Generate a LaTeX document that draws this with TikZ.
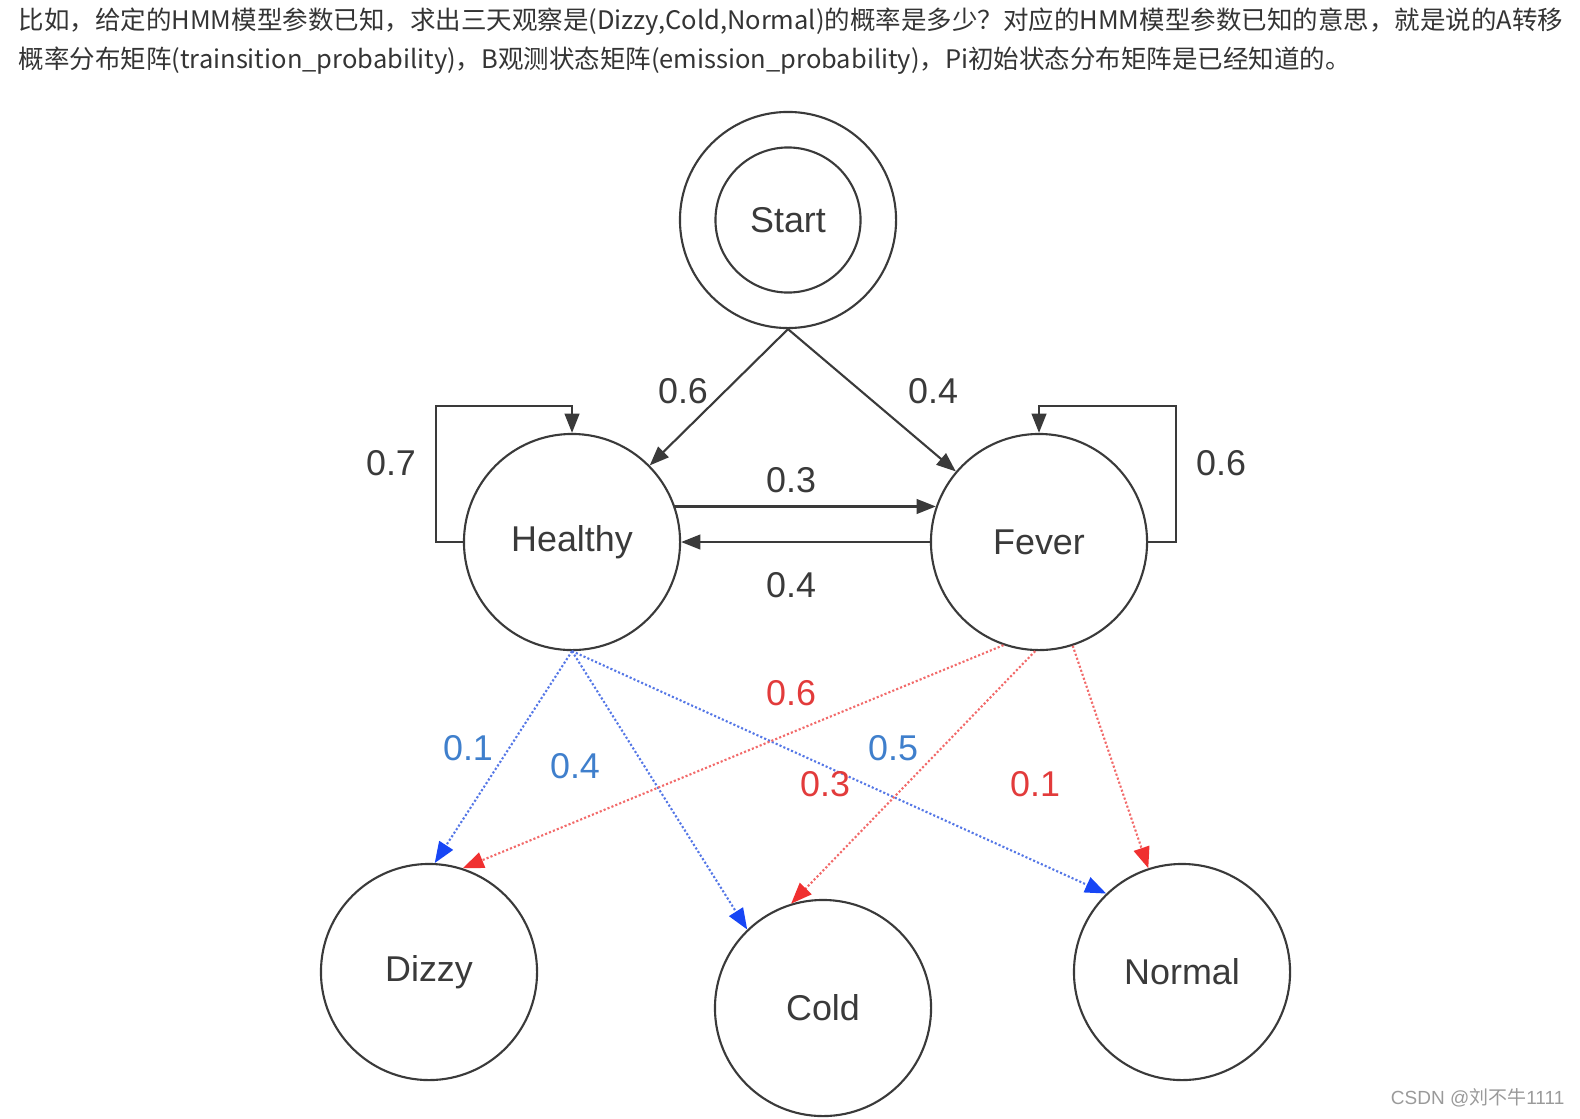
\documentclass[tikz,border=0pt]{standalone}
\usepackage{fontspec}
\setmainfont{Liberation Sans}
\newfontfamily\cjk{Noto Sans CJK SC}
\usetikzlibrary{arrows.meta}
\definecolor{linegray}{HTML}{3A3A3A}
\definecolor{textgray}{HTML}{3A3A3A}
\definecolor{healthblue}{HTML}{5577E6}
\definecolor{healthtip}{HTML}{1746F5}
\definecolor{healthlbl}{HTML}{3F7FCC}
\definecolor{feverred}{HTML}{F26A6A}
\definecolor{fevertip}{HTML}{F03030}
\definecolor{feverlbl}{HTML}{E23B3B}
\definecolor{markgray}{HTML}{9A9A9A}

\begin{document}
\begin{tikzpicture}[x=0.01cm, y=-0.01cm,
    state/.style={circle, draw=linegray, line width=0.6pt, minimum size=2.16cm,
      inner sep=0pt, text=textgray, font=\fontsize{10.2}{12}\selectfont},
    trans/.style={draw=linegray, line width=0.6pt,
      -{Triangle[length=5.5pt, width=4.2pt]}},
    prob/.style={text=textgray, font=\fontsize{10.2}{12}\selectfont},
    emith/.style={draw=healthblue, line width=0.6pt, dash pattern=on 0.6pt off 0.6pt,
      -{Triangle[length=6pt, width=4.6pt, color=healthtip]}},
    emitf/.style={draw=feverred, line width=0.6pt, dash pattern=on 0.6pt off 0.6pt,
      -{Triangle[length=6pt, width=4.6pt, color=fevertip]}},
    intro/.style={anchor=west, inner sep=0pt, text=textgray!90!black,
      font=\cjk\fontsize{7.25}{8}\selectfont}
]
  \useasboundingbox (0,0) rectangle (1580,1118);

  % Einleitungstext
  \node[intro] (intro1) at (18,22) {比如，给定的HMM模型参数已知，求出三天观察是(Dizzy,Cold,Normal)的概率是多少？对应的HMM模型参数已知的意思，就是说的A转移};
  \node[intro] (intro2) at (18,61) {概率分布矩阵(trainsition\_probability)，B观测状态矩阵(emission\_probability)，Pi初始状态分布矩阵是已经知道的。};

  % Zustaende
  \node[state] (start) at (788,220) {};
  \node[state, minimum size=1.45cm] (start-in) at (start) {Start};
  \node[state] (healthy) at (572,542) {Healthy};
  \node[state] (fever) at (1039,542) {Fever};

  % Beobachtungen
  \node[state] (dizzy) at (429,972) {Dizzy};
  \node[state] (cold) at (823,1008) {Cold};
  \node[state] (normal) at (1182,972) {Normal};

  % Startverteilung
  \draw[trans] (start.south) -- (healthy);
  \draw[trans] (start.south) -- (fever);
  \node[prob] (p-sh) at (683,391) {0.6};
  \node[prob] (p-sf) at (933,391) {0.4};

  % Uebergaenge
  \draw[trans] (healthy.west) -- ++(-27,0) -- ++(0,-136) -| (healthy.north);
  \draw[trans] (fever.east) -- ++(28,0) -- ++(0,-136) -| (fever.north);
  \draw[trans] (healthy.19) -- (fever.161);
  \draw[trans] (fever.west) -- (healthy.east);
  \node[prob] (p-hh) at (391,463) {0.7};
  \node[prob] (p-ff) at (1221,463) {0.6};
  \node[prob] (p-hf) at (791,480) {0.3};
  \node[prob] (p-fh) at (791,585) {0.4};

  % Emissionen von Healthy
  \draw[emith] (healthy.south) -- (dizzy.87);
  \draw[emith] (healthy.south) -- (cold.134);
  \draw[emith] (healthy.south) -- (normal.134);
  \node[prob, text=healthlbl] (e-hd) at (468,748) {0.1};
  \node[prob, text=healthlbl] (e-hc) at (575,766) {0.4};
  \node[prob, text=healthlbl] (e-hn) at (893,748) {0.5};

  % Emissionen von Fever
  \draw[emitf] (fever.-109) -- (dizzy.72);
  \draw[emitf] (fever.-92) -- (cold.107);
  \draw[emitf] (fever.-72) -- (normal.108);
  \node[prob, text=feverlbl] (e-fd) at (791,693) {0.6};
  \node[prob, text=feverlbl] (e-fc) at (825,784) {0.3};
  \node[prob, text=feverlbl] (e-fn) at (1035,784) {0.1};

  % Wasserzeichen
  \node[anchor=east, inner sep=0pt, text=markgray, font=\fontsize{5.4}{6}\selectfont]
    (mark) at (1565,1098) {CSDN @{\cjk 刘不牛}1111};
\end{tikzpicture}
\end{document}
